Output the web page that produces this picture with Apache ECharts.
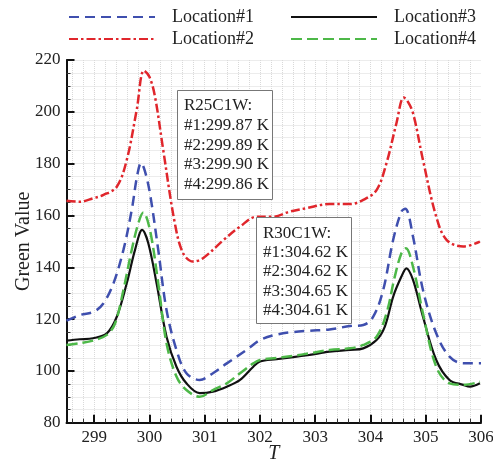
<!DOCTYPE html>
<html>
<head>
<meta charset="utf-8">
<script src="https://cdn.jsdelivr.net/npm/echarts@6/dist/echarts.min.js"></script>
<style>
html, body { margin: 0; padding: 0; background: #fff; }
#chart { width: 493px; height: 463px; }
</style>
</head>
<body>
<div id="chart"></div>
<script>
// Location#1 (blue dashed)
const tLoc1 = [298.5, 298.75, 299.0, 299.17, 299.35, 299.53, 299.68, 299.78, 299.85, 299.92, 300.01, 300.16, 300.31, 300.49, 300.67, 300.91, 301.15, 301.4, 301.76, 302.0, 302.3, 302.6, 302.9, 303.26, 303.63, 303.87, 304.05, 304.23, 304.41, 304.56, 304.63, 304.77, 304.95, 305.19, 305.43, 305.68, 306.0]
const vLoc1 = [119.4, 121.6, 122.9, 126.1, 133.8, 146.7, 162.1, 175.5, 180.3, 177, 168.5, 146.7, 123.5, 108.1, 99.1, 96.5, 99.1, 102.9, 108.1, 111.9, 114, 115, 115.5, 116, 117.3, 117.7, 120.9, 131.2, 150.5, 161.5, 162.6, 151.8, 131.2, 114.5, 105.5, 102.9, 102.9]
// Location#2 (red dash-dot)
const tLoc2 = [298.5, 298.74, 298.98, 299.17, 299.41, 299.59, 299.77, 299.9, 300.0, 300.1, 300.25, 300.46, 300.61, 300.79, 300.97, 301.34, 301.64, 301.94, 302.24, 302.54, 302.84, 303.26, 303.63, 303.87, 304.11, 304.29, 304.47, 304.6, 304.66, 304.77, 304.95, 305.19, 305.38, 305.68, 305.98]
const vLoc2 = [165.7, 165.3, 166.6, 167.9, 171.1, 181.4, 200.7, 215.9, 213.5, 206, 185.3, 157, 145.4, 142.2, 143.5, 150.5, 155.7, 159.5, 159.5, 161.5, 162.8, 164.4, 164.4, 166, 169.8, 180.2, 195.6, 205.5, 204.5, 199.5, 181.4, 159.5, 150.5, 148, 149.9]
// Location#3 (black solid)
const tLoc3 = [298.5, 298.74, 298.98, 299.23, 299.41, 299.59, 299.74, 299.87, 299.98, 300.13, 300.31, 300.49, 300.67, 300.91, 301.15, 301.4, 301.64, 301.88, 302.0, 302.3, 302.6, 302.9, 303.26, 303.63, 303.87, 304.11, 304.26, 304.41, 304.56, 304.65, 304.77, 304.95, 305.19, 305.43, 305.68, 305.8, 305.98]
const vLoc3 = [111.7, 112.2, 112.6, 114.5, 120.9, 133.8, 146.7, 154.4, 149.3, 133.8, 113.2, 101.6, 95.2, 91.4, 92, 93.9, 96.5, 101.6, 103.6, 104.5, 105.3, 106.2, 107.4, 108.1, 108.7, 111.9, 117.1, 128.6, 136.4, 139.6, 135.1, 120.9, 104.2, 96.5, 94.6, 93.9, 95.2]
// Location#4 (green dashed)
const tLoc4 = [298.5, 298.74, 298.98, 299.23, 299.38, 299.53, 299.68, 299.8, 299.89, 300.01, 300.16, 300.31, 300.49, 300.67, 300.91, 301.15, 301.4, 301.64, 301.88, 302.0, 302.3, 302.6, 302.9, 303.26, 303.63, 303.87, 304.11, 304.29, 304.44, 304.56, 304.64, 304.77, 304.95, 305.19, 305.43, 305.68, 305.98]
const vLoc4 = [110, 110.7, 111.7, 113.9, 118.4, 131.2, 146.7, 157, 161.1, 154.4, 133.8, 110.7, 97.8, 92.6, 90, 92.6, 95.2, 99.1, 102.9, 104.2, 105, 105.8, 106.8, 108.1, 108.7, 110, 113.2, 122.2, 136.4, 145.4, 147.3, 140.2, 122.2, 101.6, 95.2, 94.6, 95.8]

// x ticks: labelled integers and the 0.2 minor steps (grid lines follow these)
const xMajorTicks = [299, 300, 301, 302, 303, 304, 305, 306]
const xMinorTicks = [298.6, 298.8, 299.0, 299.2, 299.4, 299.6, 299.8, 300.0, 300.2, 300.4, 300.6, 300.8, 301.0, 301.2, 301.4, 301.6, 301.8, 302.0, 302.2, 302.4, 302.6, 302.8, 303.0, 303.2, 303.4, 303.6, 303.8, 304.0, 304.2, 304.4, 304.6, 304.8, 305.0, 305.2, 305.4, 305.6, 305.8]

const box1Lines = ['R25C1W:', '#1:299.87 K', '#2:299.89 K', '#3:299.90 K', '#4:299.86 K']
const box2Lines = ['R30C1W:', '#1:304.62 K', '#2:304.62 K', '#3:304.65 K', '#4:304.61 K']

const serif = '"Liberation Serif", "DejaVu Serif", serif'
const zip = (xs, ys) => xs.map((x, i) => [x, ys[i]])

const legendBase = {
	orient: 'vertical',
	top: 3,
	itemWidth: 86,
	itemHeight: 12,
	itemGap: 4,
	itemStyle: { color: 'rgba(0,0,0,0)', borderWidth: 0, opacity: 0 },
	textStyle: {
		fontFamily: serif,
		fontSize: 18,
		color: '#222',
		padding: [0, 0, 0, 12],
	},
}

const gridLine = { show: true, lineStyle: { color: '#d9d9d9', type: 'dotted', width: 1 } }

const chart = echarts.init(document.getElementById('chart'))

chart.setOption({
	animation: false,
	backgroundColor: '#fff',
	legend: [
		{ ...legendBase, data: ['Location#1', 'Location#2'], left: 63 },
		{ ...legendBase, data: ['Location#3', 'Location#4'], left: 285 },
	],
	grid: {
		left: 66.5,
		right: 12,
		top: 60,
		bottom: 40.3,
		outerBoundsMode: 'none',
	},
	xAxis: [
		{
			// data axis: minor ticks + dotted grid
			type: 'value',
			position: 'bottom',
			min: 298.5,
			max: 306,
			name: 'T',
			nameLocation: 'middle',
			nameGap: 21,
			nameMoveOverlap: false,
			nameTextStyle: {
				fontFamily: serif,
				fontSize: 20,
				fontStyle: 'italic',
				color: '#222',
			},
			axisLine: { lineStyle: { color: '#111', width: 2 } },
			axisTick: {
				inside: true,
				length: 4,
				customValues: xMinorTicks,
				lineStyle: { color: '#333', width: 1 },
			},
			axisLabel: { show: false },
			splitLine: gridLine,
		},
		{
			// major ticks and labels
			type: 'value',
			position: 'bottom',
			min: 298.5,
			max: 306,
			axisLine: { show: false },
			axisTick: {
				show: true,
				inside: true,
				length: 8,
				customValues: xMajorTicks,
				lineStyle: { color: '#111', width: 2 },
			},
			axisLabel: {
				fontFamily: serif,
				fontSize: 17,
				color: '#222',
				margin: 6,
				customValues: xMajorTicks,
			},
			splitLine: { show: false },
		},
	],
	yAxis: {
		type: 'value',
		min: 80,
		max: 220,
		interval: 20,
		name: 'Green Value',
		nameLocation: 'middle',
		nameGap: 33,
		nameMoveOverlap: false,
		nameTextStyle: {
			fontFamily: serif,
			fontSize: 20,
			color: '#222',
		},
		axisLine: { show: true, lineStyle: { color: '#111', width: 2 } },
		axisTick: { show: true, inside: true, length: 8, lineStyle: { color: '#111', width: 2 } },
		minorTick: { show: true, splitNumber: 4, length: 4, lineStyle: { color: '#333', width: 1 } },
		axisLabel: {
			fontFamily: serif,
			fontSize: 17,
			color: '#222',
			margin: 6,
		},
		splitLine: gridLine,
		minorSplitLine: gridLine,
	},
	series: [
		{
			name: 'Location#1',
			type: 'line',
			symbol: 'none',
			smooth: 0.35,
			data: zip(tLoc1, vLoc1),
			lineStyle: { color: '#3f4fae', width: 2.5, type: [10, 6] },
			itemStyle: { color: '#3f4fae' },
		},
		{
			name: 'Location#2',
			type: 'line',
			symbol: 'none',
			smooth: 0.35,
			data: zip(tLoc2, vLoc2),
			lineStyle: { color: '#e0262c', width: 2.5, type: [9, 3, 2.5, 3] },
			itemStyle: { color: '#e0262c' },
		},
		{
			name: 'Location#3',
			type: 'line',
			symbol: 'none',
			smooth: 0.35,
			data: zip(tLoc3, vLoc3),
			lineStyle: { color: '#111', width: 2.2 },
			itemStyle: { color: '#111' },
		},
		{
			name: 'Location#4',
			type: 'line',
			symbol: 'none',
			smooth: 0.35,
			data: zip(tLoc4, vLoc4),
			lineStyle: { color: '#4db848', width: 2.5, type: [11, 5] },
			itemStyle: { color: '#4db848' },
		},
	],
	graphic: [
		{
			type: 'rect',
			shape: { x: 177.5, y: 90.5, width: 95, height: 109 },
			style: { fill: '#fff', stroke: '#777', lineWidth: 1 },
			z: 100,
		},
		{
			type: 'text',
			x: 184,
			y: 96,
			style: {
				text: box1Lines.join('\n'),
				font: '17px ' + serif,
				lineHeight: 19.7,
				fill: '#222',
			},
			z: 101,
		},
		{
			type: 'rect',
			shape: { x: 256.5, y: 217.5, width: 95, height: 106 },
			style: { fill: '#fff', stroke: '#777', lineWidth: 1 },
			z: 100,
		},
		{
			type: 'text',
			x: 263,
			y: 223.5,
			style: {
				text: box2Lines.join('\n'),
				font: '17px ' + serif,
				lineHeight: 19.3,
				fill: '#222',
			},
			z: 101,
		},
	],
})
</script>
</body>
</html>
